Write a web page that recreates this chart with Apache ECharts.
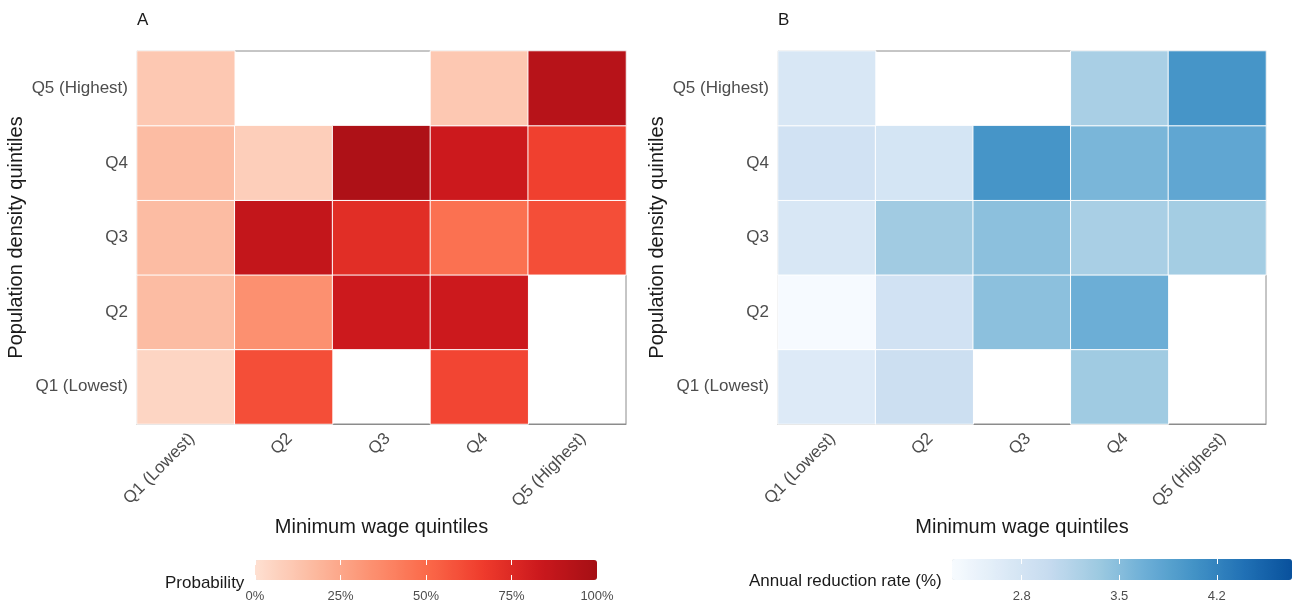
<!DOCTYPE html>
<html>
<head>
<meta charset="utf-8">
<title>Heatmaps</title>
<script src="https://cdn.jsdelivr.net/npm/echarts@6/dist/echarts.min.js"></script>
<style>
  html, body { margin: 0; padding: 0; background: #fff; }
  #chart { width: 1301px; height: 608px; }
</style>
</head>
<body>
<div id="chart"></div>
<script>
// quintile labels (x = minimum wage, y = population density)
const wageQuintiles = ['Q1 (Lowest)', 'Q2', 'Q3', 'Q4', 'Q5 (Highest)']
const densityQuintiles = ['Q1 (Lowest)', 'Q2', 'Q3', 'Q4', 'Q5 (Highest)']

// panel A: probability, one row per density quintile (Q1 first), columns = wage quintiles
const probQ1 = [0.05, 0.60, null, 0.63, null]
const probQ2 = [0.16, 0.34, 0.83, 0.83, null]
const probQ3 = [0.16, 0.87, 0.73, 0.47, 0.60]
const probQ4 = [0.16, 0.08, 0.96, 0.83, 0.65]
const probQ5 = [0.11, null, null, 0.11, 0.92]

// panel B: annual reduction rate (%)
const rateQ1 = [2.67, 2.91, null, 3.33, null]
const rateQ2 = [2.32, 2.84, 3.47, 3.69, null]
const rateQ3 = [2.74, 3.32, 3.47, 3.25, 3.29]
const rateQ4 = [2.84, 2.79, 4.01, 3.59, 3.79]
const rateQ5 = [2.74, null, null, 3.25, 4.01]

// legend scales
const probRange = [0, 1]
const probTicks = [0, 0.25, 0.5, 0.75, 1]
const rateRange = [2.3, 4.74]
const rateTicks = [2.8, 3.5, 4.2]

const reds = ['#fee0d2', '#fcbba1', '#fc9272', '#fb6a4a', '#ef3b2c', '#cb181d', '#a50f15']
const blues = ['#f7fbff', '#deebf7', '#c6dbef', '#9ecae1', '#6baed6', '#4292c6', '#2171b5', '#08519c']

function toCells(rows) {
  const out = []
  rows.forEach((row, y) => {
    row.forEach((v, x) => {
      if (v !== null) out.push([x, y, v])
    })
  })
  return out
}

const font = 'Liberation Sans, Arial, sans-serif'
const labelGrey = '#4d4d4d'
const titleBlack = '#1a1a1a'

function heatXAxis(gridIndex) {
  return {
    type: 'category', gridIndex: gridIndex, data: wageQuintiles,
    name: 'Minimum wage quintiles', nameLocation: 'middle', nameGap: 92,
    nameTextStyle: { fontSize: 20, color: titleBlack, fontFamily: font },
    axisLine: { show: true, lineStyle: { color: '#8c8c8c' } },
    axisTick: { show: false },
    axisLabel: { rotate: 45, margin: 6, align: 'right', verticalAlign: 'top', fontSize: 17, color: labelGrey, fontFamily: font },
    splitLine: { show: false }
  }
}
function heatYAxis(gridIndex) {
  return {
    type: 'category', gridIndex: gridIndex, data: densityQuintiles,
    name: 'Population density quintiles', nameLocation: 'middle', nameGap: 111,
    nameTextStyle: { fontSize: 20, color: titleBlack, fontFamily: font },
    axisLine: { show: true, lineStyle: { color: '#8c8c8c' } },
    axisTick: { show: false },
    axisLabel: { margin: 9, fontSize: 17, color: labelGrey, fontFamily: font },
    splitLine: { show: false }
  }
}
// axes laid over the colour bars, for the tick labels and white tick marks
function legendAxes(gridIndex, range, ticks, fmt) {
  return [{
    type: 'value', gridIndex: gridIndex, position: 'bottom', z: 10,
    min: range[0], max: range[1],
    axisLine: { show: false },
    axisTick: { show: true, inside: true, length: 5, customValues: ticks, lineStyle: { color: '#fff', width: 1 } },
    axisLabel: { customValues: ticks, formatter: fmt, margin: 10, fontSize: 13, color: labelGrey, fontFamily: font },
    splitLine: { show: false }
  }, {
    type: 'value', gridIndex: gridIndex, position: 'top', z: 10,
    min: range[0], max: range[1],
    axisLine: { show: false },
    axisTick: { show: true, inside: true, length: 5, customValues: ticks, lineStyle: { color: '#fff', width: 1 } },
    axisLabel: { show: false },
    splitLine: { show: false }
  }]
}

const chart = echarts.init(document.getElementById('chart'))

const option = {
  backgroundColor: '#fff',
  animation: false,
  title: [
    { text: 'A', left: 137, top: 12, padding: 0, textStyle: { fontSize: 17, fontWeight: 'normal', color: titleBlack, fontFamily: font } },
    { text: 'B', left: 778, top: 12, padding: 0, textStyle: { fontSize: 17, fontWeight: 'normal', color: titleBlack, fontFamily: font } },
    { text: 'Probability', left: 165, top: 575, padding: 0, textStyle: { fontSize: 17, fontWeight: 'normal', color: titleBlack, fontFamily: font } },
    { text: 'Annual reduction rate (%)', left: 749, top: 573, padding: 0, textStyle: { fontSize: 17, fontWeight: 'normal', color: titleBlack, fontFamily: font } }
  ],
  grid: [
    { left: 137, top: 51, width: 489, height: 373, show: true, borderColor: '#8c8c8c', borderWidth: 1, backgroundColor: '#fff' },
    { left: 778, top: 51, width: 488, height: 373, show: true, borderColor: '#8c8c8c', borderWidth: 1, backgroundColor: '#fff' },
    { left: 255, top: 560, width: 342, height: 20 },
    { left: 952, top: 559, width: 340, height: 21 }
  ],
  xAxis: [heatXAxis(0), heatXAxis(1)]
    .concat(legendAxes(2, probRange, probTicks, v => Math.round(v * 100) + '%'))
    .concat(legendAxes(3, rateRange, rateTicks, v => v.toFixed(1))),
  yAxis: [heatYAxis(0), heatYAxis(1),
    { type: 'value', gridIndex: 2, show: false },
    { type: 'value', gridIndex: 3, show: false }],
  visualMap: [
    {
      type: 'continuous', seriesIndex: 0, min: probRange[0], max: probRange[1],
      orient: 'horizontal', left: 255, top: 560, padding: 0, z: 2,
      itemWidth: 20, itemHeight: 342, text: null, showLabel: false, calculable: false,
      inRange: { color: reds }
    },
    {
      type: 'continuous', seriesIndex: 1, min: rateRange[0], max: rateRange[1],
      orient: 'horizontal', left: 952, top: 559, padding: 0, z: 2,
      itemWidth: 21, itemHeight: 340, text: null, showLabel: false, calculable: false,
      inRange: { color: blues }
    }
  ],
  series: [
    {
      type: 'heatmap', xAxisIndex: 0, yAxisIndex: 0,
      data: toCells([probQ1, probQ2, probQ3, probQ4, probQ5]),
      itemStyle: { borderColor: '#fff', borderWidth: 1 },
      emphasis: { disabled: true }
    },
    {
      type: 'heatmap', xAxisIndex: 1, yAxisIndex: 1,
      data: toCells([rateQ1, rateQ2, rateQ3, rateQ4, rateQ5]),
      itemStyle: { borderColor: '#fff', borderWidth: 1 },
      emphasis: { disabled: true }
    }
  ]
}

chart.setOption(option)
</script>
</body>
</html>
